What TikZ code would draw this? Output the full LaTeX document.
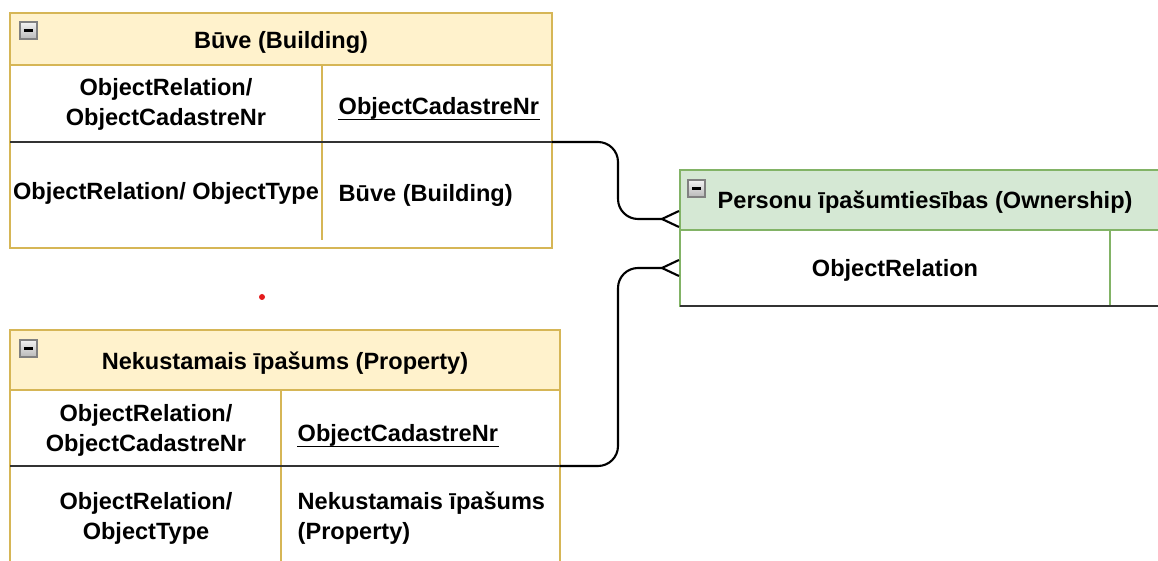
\documentclass[tikz,border=0pt]{standalone}
\usepackage{fontspec}
\setmainfont{Liberation Sans}
\usetikzlibrary{arrows.meta}
\definecolor{ylwfill}{HTML}{FFF2CC}
\definecolor{ylwline}{HTML}{D6B656}
\definecolor{grnfill}{HTML}{D5E8D4}
\definecolor{grnline}{HTML}{82B366}
\definecolor{sepline}{HTML}{333333}
\definecolor{dotred}{HTML}{E41A1C}

\begin{document}
\begin{tikzpicture}[>={Straight Barb[reversed,length=0.17cm,width=0.16cm]},
    font=\bfseries\fontsize{6.7}{8.5}\selectfont, inner sep=0pt,
    ylw/.style={draw=ylwline,line width=0.6pt},
    grn/.style={draw=grnline,line width=0.6pt},
    sep/.style={draw=sepline,line width=0.55pt},
    link/.style={draw=black,line width=0.6pt,rounded corners=0.2cm},
    keyline/.style={line width=0.4pt},
    minusbox/.style={draw=gray,top color=gray!10,bottom color=gray!55,line width=0.3pt}]
      \useasboundingbox[fill=white] (0,0) rectangle (11.58,5.60);
      % Buve (Building)
      \draw[ylw,fill=ylwfill] (0.10,5.47) rectangle (5.52,4.95) node[pos=0.5,yshift=-0.03cm] (bHead) {Būve (Building)};
      \draw[ylw,fill=white] (0.10,4.95) rectangle (5.52,3.12);
      \draw[ylw] (3.22,4.95) -- (3.22,3.20);
      \draw[sep] (0.10,4.18) -- (5.52,4.18) coordinate (bKey);
      \node[align=center] (bRel) at (1.66,4.56) {ObjectRelation/\\ObjectCadastreNr};
      \node[anchor=west] (bNr) at (3.38,4.52) {ObjectCadastreNr};
      \draw[keyline] ([yshift=-1.6pt]bNr.base west) -- ([yshift=-1.6pt]bNr.base east);
      \node (bRelType) at (1.66,3.67) {ObjectRelation/ ObjectType};
      \node[anchor=west] (bType) at (3.38,3.65) {Būve (Building)};
      % Nekustamais ipasums (Property)
      \draw[ylw,fill=ylwfill] (0.10,2.30) rectangle (5.60,1.70);
      \node (pHead) at (2.85,1.97) {Nekustamais īpašums (Property)};
      \draw[ylw,fill=white] (0.10,1.70) rectangle (5.60,-0.05);
      \draw[ylw] (2.81,1.70) -- (2.81,-0.05);
      \draw[sep] (0.10,0.94) -- (5.60,0.94) coordinate (pKey);
      \node[align=center] (pRel) at (1.46,1.30) {ObjectRelation/\\ObjectCadastreNr};
      \node[anchor=west] (pNr) at (2.97,1.25) {ObjectCadastreNr};
      \draw[keyline] ([yshift=-1.6pt]pNr.base west) -- ([yshift=-1.6pt]pNr.base east);
      \node[align=center] (pRelType) at (1.46,0.42) {ObjectRelation/\\ObjectType};
      \node[anchor=west,align=left] (pType) at (2.97,0.42) {Nekustamais īpašums\\(Property)};
      % Personu ipasumtiesibas (Ownership)
      \draw[grn,fill=grnfill] (6.80,3.90) rectangle (11.65,3.30);
      \node[anchor=west] (oHead) at (7.17,3.58) {Personu īpašumtiesības (Ownership)};
      \draw[grn,fill=white] (6.80,3.30) rectangle (11.65,2.54);
      \draw[grn] (11.10,3.30) -- (11.10,2.54);
      \draw[sep] (6.80,2.54) -- (11.65,2.54);
      \node (oRel) at (8.95,2.90) {ObjectRelation};
      \coordinate (oTop) at (6.80,3.41);
      \coordinate (oBot) at (6.80,2.92);
      % collapse icons
      \foreach \x/\y in {0.20/5.38, 0.20/2.20, 6.88/3.80} {
        \draw[minusbox] (\x,\y) rectangle ++(0.17,-0.17);
        \draw[line width=0.6pt] (\x+0.04,\y-0.085) -- ++(0.09,0);
      }
      \fill[dotred] (2.62,2.63) circle (0.03);
      % links
      \draw[link,->] (bKey) -- (6.18,4.18) -- (6.18,3.41) -- (oTop);
      \draw[link,->] (pKey) -- (6.18,0.94) -- (6.18,2.92) -- (oBot);
\end{tikzpicture}
\end{document}
